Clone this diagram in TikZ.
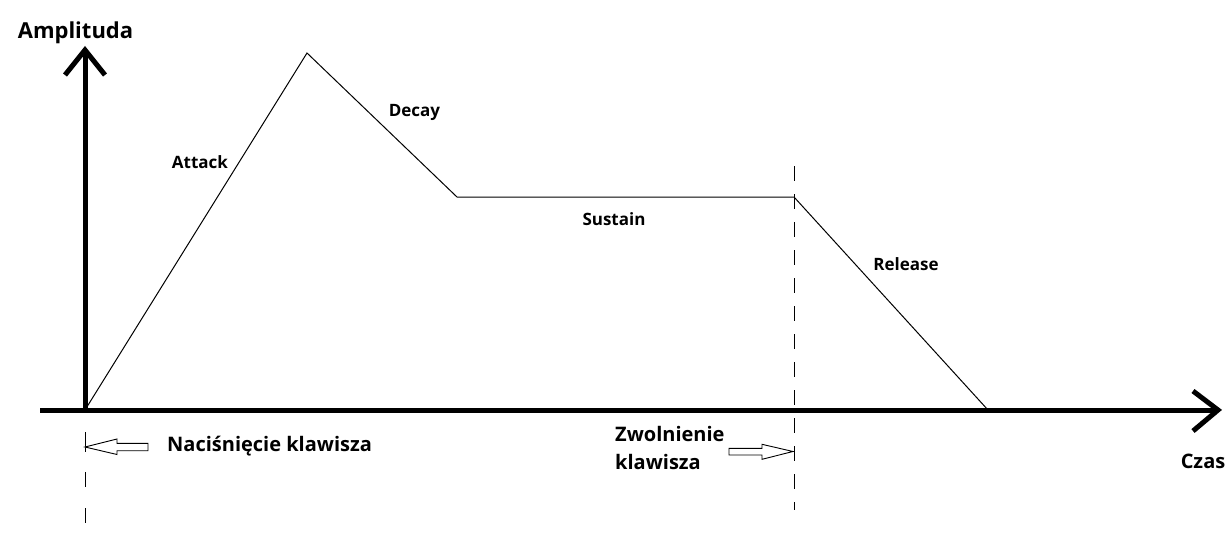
\documentclass[tikz,border=0pt]{standalone}
\usepackage{fontspec}
\setmainfont{Open Sans}
\begin{document}
\begin{tikzpicture}[x=1pt,y=-1pt,
  axis/.style={line width=5pt},
  env/.style={line width=1pt},
  marker/.style={line width=1pt,dash pattern=on 15pt off 13pt},
  blockarrow/.style={line width=0.9pt,fill=white,line join=miter},
  lbl/.style={font=\bfseries\fontsize{17}{20}\selectfont,inner sep=0pt},
  big/.style={font=\bfseries\fontsize{20}{28}\selectfont,inner sep=0pt}]
\useasboundingbox (0,0) rectangle (1232,554);
% axes
\coordinate (xs) at (40,410);
\coordinate (xe) at (1218,410);
\coordinate (xa1) at (1193,391);
\coordinate (xa2) at (1193,431);
\coordinate (ys) at (85,410);
\coordinate (ye) at (85,50);
\coordinate (ya1) at (65,75);
\coordinate (ya2) at (105,75);
\draw[axis] (xs) -- (xe);
\draw[axis] (xa1) -- (xe) -- (xa2);
\draw[axis] (ys) -- (ye);
\draw[axis] (ya1) -- (ye) -- (ya2);
% envelope
\coordinate (O) at (85,410);
\coordinate (P) at (307,53);
\coordinate (D) at (457,197);
\coordinate (S) at (794,197);
\coordinate (R) at (988,410);
\draw[env,line join=miter] (O) -- (P) -- (D) -- (S) -- (R);
% markers
\coordinate (m1t) at (85,432);
\coordinate (m1b) at (85,524);
\coordinate (m2t) at (794,166);
\coordinate (m2b) at (794,510);
\draw[marker,dash pattern=on 20pt off 20pt on 15pt off 21pt on 15pt off 30pt] (m1t) -- (m1b);
\draw[marker] (m2t) -- (m2b);
% block arrows
\draw[blockarrow] (85,447) -- (117,439) -- (117,443.3) -- (148,443.3) -- (148,450.7) -- (117,450.7) -- (117,454.5) -- cycle;
\draw[blockarrow] (793,451.5) -- (762,444.3) -- (762,448.3) -- (729,448.3) -- (729,455) -- (762,455) -- (762,459.3) -- cycle;
% labels
\node[font=\bfseries\fontsize{22}{26}\selectfont,inner sep=0pt] (amp) at (75.5,33) {Amplituda};
\node[lbl] (att) at (200,162) {Attack};
\node[lbl] (dec) at (414.5,112) {Decay};
\node[lbl] (sus) at (614,219) {Sustain};
\node[lbl] (rel) at (906,264) {Release};
\node[big,anchor=west] (nac) at (167,446) {Naciśnięcie klawisza};
\node[big,anchor=north west,align=left] (zwo) at (615,426) {Zwolnienie\\klawisza};
\node[big] (czas) at (1203,461) {Czas};
\end{tikzpicture}
\end{document}
